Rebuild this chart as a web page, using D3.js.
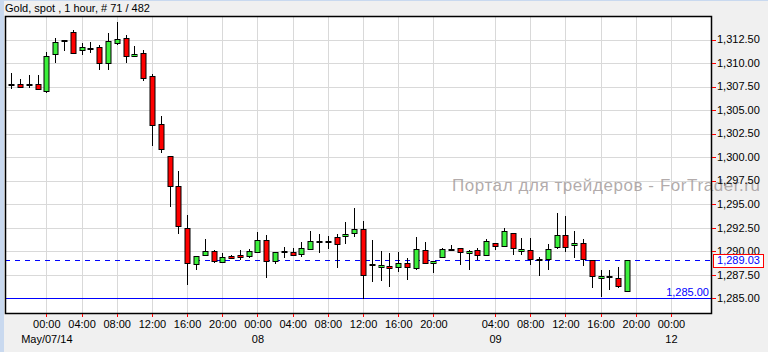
<!doctype html>
<html lang="en">
<head>
<meta charset="utf-8">
<title>Gold, spot, 1 hour</title>
<script src="https://d3js.org/d3.v7.min.js"></script>
<style>
html, body {
  margin: 0;
  padding: 0;
  background: #f0f0f0;
}
svg {
  display: block;
  font-family: 'Liberation Sans', Arial, sans-serif;
}
.grid line {
  stroke: #d9d9d9;
  stroke-width: 1;
}
.tick-mark {
  stroke: #ff0000;
  stroke-width: 1;
}
.axis-label {
  font-size: 11px;
  fill: #000;
}
.wick {
  stroke: #000;
  stroke-width: 1;
}
.body {
  stroke: #000;
  stroke-width: 1;
}
</style>
</head>
<body>
<svg width="768" height="352"></svg>
<script>
// candles, one per hour, May 06 20:00 .. May 09 19:00 (index 0..70)
const opens = [
  1307.75, 1307.79, 1307.79, 1307.79, 1307.05, 1310.98, 1312.43, 1313.35, 1311.36, 1311.65,
  1311.72, 1310.02, 1312.11, 1312.68, 1310.77, 1311.09, 1308.64, 1303.54, 1300.14, 1296.88,
  1292.49, 1288.66, 1289.51, 1289.97, 1288.91, 1289.51, 1289.62, 1289.48, 1289.94, 1291.21,
  1288.98, 1290.02, 1289.94, 1289.73, 1290.26, 1291.09, 1291.09, 1291.53, 1291.53, 1291.92,
  1292.38, 1288.62, 1288.35, 1288.45, 1288.31, 1288.77, 1288.24, 1290.15, 1288.80, 1289.30,
  1290.28, 1290.36, 1289.83, 1290.15, 1289.62, 1290.89, 1290.58, 1291.96, 1290.05, 1290.15,
  1289.22, 1289.19, 1290.47, 1291.75, 1290.68, 1290.89, 1289.05, 1287.18, 1287.32, 1287.18,
  1285.69
];
const highs = [
  1308.92, 1308.28, 1308.78, 1308.78, 1311.22, 1312.61, 1312.47, 1313.53, 1312.11, 1312.26,
  1311.97, 1313.14, 1314.41, 1313.00, 1311.76, 1311.41, 1308.85, 1304.39, 1300.14, 1298.55,
  1293.80, 1289.51, 1291.25, 1290.15, 1289.83, 1289.62, 1290.08, 1290.26, 1292.06, 1291.67,
  1289.94, 1290.47, 1290.36, 1290.93, 1292.17, 1291.78, 1291.60, 1291.88, 1293.05, 1294.61,
  1293.16, 1291.21, 1290.05, 1289.83, 1289.87, 1289.26, 1291.53, 1291.00, 1288.98, 1290.29,
  1290.68, 1290.36, 1290.15, 1290.36, 1291.32, 1290.89, 1292.49, 1291.96, 1291.43, 1291.43,
  1289.41, 1290.79, 1294.08, 1293.76, 1292.17, 1291.32, 1289.05, 1288.03, 1288.03, 1288.35,
  1289.10
];
const lows = [
  1307.22, 1307.37, 1307.37, 1307.15, 1306.79, 1309.98, 1311.26, 1310.91, 1310.83, 1311.12,
  1309.21, 1309.21, 1311.94, 1310.02, 1310.77, 1308.11, 1301.16, 1300.42, 1294.68, 1291.85,
  1286.36, 1288.03, 1289.51, 1288.73, 1288.91, 1289.19, 1289.02, 1289.30, 1289.90, 1287.13,
  1288.62, 1289.23, 1289.47, 1289.37, 1290.15, 1289.83, 1290.20, 1288.20, 1290.79, 1291.53,
  1284.94, 1286.71, 1286.78, 1286.17, 1287.77, 1286.96, 1288.03, 1288.59, 1287.66, 1289.30,
  1290.05, 1288.52, 1287.98, 1289.09, 1289.62, 1290.15, 1290.47, 1289.62, 1289.62, 1288.56,
  1287.40, 1288.03, 1290.26, 1289.94, 1289.30, 1288.45, 1286.10, 1285.12, 1285.90, 1286.10,
  1285.69
];
const closes = [
  1307.68, 1307.47, 1307.66, 1307.29, 1310.77, 1312.26, 1312.36, 1311.15, 1311.72, 1311.62,
  1310.02, 1312.36, 1312.57, 1310.77, 1310.98, 1308.43, 1303.44, 1300.88, 1296.95, 1292.66,
  1288.77, 1289.51, 1289.97, 1288.88, 1289.41, 1289.30, 1289.41, 1290.00, 1291.21, 1288.98,
  1289.94, 1289.98, 1289.58, 1290.36, 1291.10, 1291.05, 1291.05, 1290.79, 1291.78, 1292.38,
  1287.45, 1288.58, 1288.56, 1288.24, 1288.77, 1288.35, 1290.26, 1288.80, 1288.98, 1290.18,
  1290.24, 1289.94, 1290.05, 1289.65, 1291.10, 1290.58, 1292.17, 1290.36, 1290.26, 1289.19,
  1289.18, 1290.26, 1291.75, 1290.47, 1290.89, 1289.19, 1287.39, 1287.39, 1287.28, 1286.33,
  1289.03
];

// axis ticks
const hourTickIdx = [4, 8, 12, 16, 20, 24, 28, 32, 36, 40, 44, 48, 55, 59, 63, 67, 71, 75];
const hourTickLabels = ['00:00', '04:00', '08:00', '12:00', '16:00', '20:00', '00:00', '04:00', '08:00',
  '12:00', '16:00', '20:00', '04:00', '08:00', '12:00', '16:00', '20:00', '00:00'];
const dateTickIdx = [4, 28, 55, 75];
const dateTickLabels = ['May/07/14', '08', '09', '12'];
const priceTicks = [1285, 1287.5, 1290, 1292.5, 1295, 1297.5, 1300, 1302.5, 1305, 1307.5, 1310, 1312.5];

const lastPrice = 1289.03;
const levelPrice = 1285.00;

const svg = d3.select('svg');
const plot = { left: 5, top: 16, right: 711, bottom: 313 };

// frame
svg.append('rect').attr('x', 0).attr('y', 0).attr('width', 768).attr('height', 352).attr('fill', '#f0f0f0');
svg.append('rect').attr('x', 0).attr('y', 0).attr('width', 4).attr('height', 352).attr('fill', '#c9d9ef');
svg.append('rect').attr('x', 0).attr('y', 0).attr('width', 768).attr('height', 1).attr('fill', '#c9d9ef');

const x = d3.scaleLinear()
  .domain([-0.7, 79.55])
  .range([plot.left, plot.right]);

const y = d3.scaleLinear()
  .domain([1283.43, 1315.0])
  .range([plot.bottom, plot.top]);

const px = v => Math.round(v) + 0.5;

svg.append('rect')
  .attr('x', plot.left + 0.5).attr('y', plot.top + 0.5)
  .attr('width', plot.right - plot.left).attr('height', plot.bottom - plot.top)
  .attr('fill', '#fff');

// grid
const grid = svg.append('g').attr('class', 'grid');
grid.selectAll('line.v')
  .data(hourTickIdx)
  .join('line')
  .attr('class', 'v')
  .attr('x1', d => px(x(d))).attr('x2', d => px(x(d)))
  .attr('y1', plot.top).attr('y2', plot.bottom);
grid.selectAll('line.h')
  .data(priceTicks)
  .join('line')
  .attr('class', 'h')
  .attr('x1', plot.left).attr('x2', plot.right)
  .attr('y1', d => px(y(d))).attr('y2', d => px(y(d)));

// level lines
svg.append('line')
  .attr('x1', plot.left).attr('x2', plot.right)
  .attr('y1', px(y(levelPrice))).attr('y2', px(y(levelPrice)))
  .attr('stroke', '#0000ff').attr('stroke-width', 1);

svg.append('text')
  .attr('x', plot.right - 2)
  .attr('y', px(y(levelPrice)) - 3)
  .attr('text-anchor', 'end')
  .attr('class', 'axis-label')
  .style('fill', '#0000ff')
  .text(d3.format(',.2f')(levelPrice));

svg.append('line')
  .attr('x1', plot.left).attr('x2', plot.right)
  .attr('y1', px(y(lastPrice))).attr('y2', px(y(lastPrice)))
  .attr('stroke', '#0000ff').attr('stroke-width', 1)
  .attr('stroke-dasharray', '5,5');

// watermark
svg.append('text')
  .attr('x', 452)
  .attr('y', 191)
  .attr('font-size', 17)
  .attr('textLength', 308)
  .attr('lengthAdjust', 'spacing')
  .attr('fill', '#a49c9c')
  .attr('fill-opacity', 0.85)
  .text('Портал для трейдеров - ForTrader.ru');

// candles
const candles = d3.range(opens.length).map(i => ({
  i, o: opens[i], h: highs[i], l: lows[i], c: closes[i]
}));
const bodyW = 5;

const cg = svg.append('g');
cg.selectAll('line.wick')
  .data(candles)
  .join('line')
  .attr('class', 'wick')
  .attr('x1', d => px(x(d.i))).attr('x2', d => px(x(d.i)))
  .attr('y1', d => Math.round(y(d.h))).attr('y2', d => Math.round(y(d.l)));

cg.selectAll('rect.body')
  .data(candles)
  .join('rect')
  .attr('class', 'body')
  .attr('x', d => Math.round(x(d.i)) - bodyW / 2 + 0.5)
  .attr('y', d => Math.round(y(Math.max(d.o, d.c))) + 0.5)
  .attr('width', bodyW)
  .attr('height', d => Math.max(1, Math.round(Math.abs(y(d.o) - y(d.c)))))
  .attr('fill', d => d.c >= d.o ? '#3cf03c' : '#ff0000');

// plot border
svg.append('rect')
  .attr('x', plot.left + 0.5).attr('y', plot.top + 0.5)
  .attr('width', plot.right - plot.left).attr('height', plot.bottom - plot.top)
  .attr('fill', 'none').attr('stroke', '#000').attr('stroke-width', 1.5);

// right price axis
const ra = svg.append('g');
ra.selectAll('line')
  .data(priceTicks)
  .join('line')
  .attr('class', 'tick-mark')
  .attr('x1', plot.right + 1).attr('x2', plot.right + 5)
  .attr('y1', d => px(y(d))).attr('y2', d => px(y(d)));
ra.selectAll('text')
  .data(priceTicks)
  .join('text')
  .attr('class', 'axis-label')
  .attr('x', plot.right + 6)
  .attr('y', d => y(d))
  .attr('dy', '0.35em')
  .text(d => d3.format(',.2f')(d));

// last price box
const lastY = px(y(lastPrice));
svg.append('rect')
  .attr('x', 713.5).attr('y', lastY - 6)
  .attr('width', 50).attr('height', 13)
  .attr('fill', '#fff').attr('stroke', '#ff0000').attr('stroke-width', 1);
svg.append('text')
  .attr('class', 'axis-label')
  .attr('x', 738.5).attr('y', lastY)
  .attr('dy', '0.35em')
  .attr('text-anchor', 'middle')
  .style('fill', '#0000ff')
  .text(d3.format(',.2f')(lastPrice));

// bottom time axis
const ba = svg.append('g');
ba.selectAll('line')
  .data(hourTickIdx)
  .join('line')
  .attr('class', 'tick-mark')
  .attr('x1', d => px(x(d))).attr('x2', d => px(x(d)))
  .attr('y1', plot.bottom + 1).attr('y2', plot.bottom + 4);
ba.selectAll('text.hour')
  .data(hourTickIdx)
  .join('text')
  .attr('class', 'axis-label hour')
  .attr('x', d => x(d) + 0.5)
  .attr('y', 328)
  .attr('text-anchor', 'middle')
  .text((d, k) => hourTickLabels[k]);
ba.selectAll('text.date')
  .data(dateTickIdx)
  .join('text')
  .attr('class', 'axis-label date')
  .attr('x', d => x(d) + 0.5)
  .attr('y', 343)
  .attr('text-anchor', 'middle')
  .text((d, k) => dateTickLabels[k]);

// title
svg.append('text')
  .attr('x', 5)
  .attr('y', 12)
  .attr('font-size', 11)
  .text('Gold, spot , 1 hour, # 71 / 482');
</script>
</body>
</html>
